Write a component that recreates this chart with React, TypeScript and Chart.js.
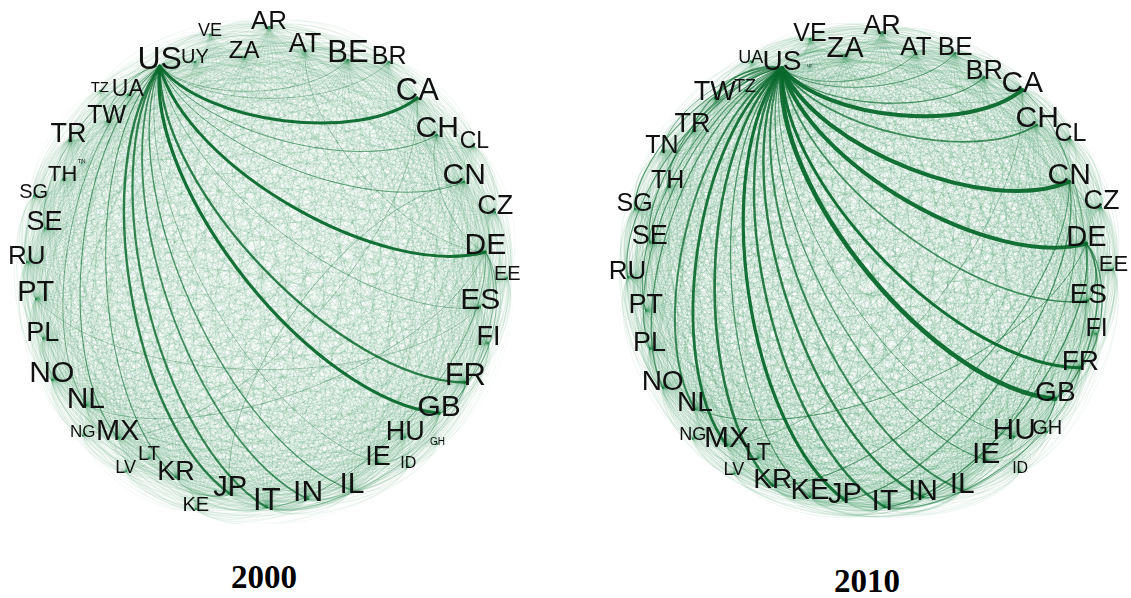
import React, { useEffect, useRef } from "react";
import { Chart, registerables } from "chart.js";

Chart.register(...registerables);

// ---------------- DATA ----------------
const COUNTRIES = [
  "AR", "AT", "BE", "BR", "CA", "CH", "CL", "CN", "CZ", "DE", "EE", "ES", "FI", "FR", "GB", "GH",
  "HU", "ID", "IE", "IL", "IN", "IT", "JP", "KE", "KR", "LT", "LV", "MX", "NG", "NL", "NO", "PL",
  "PT", "RU", "SE", "SG", "TH", "TN", "TR", "TW", "TZ", "UA", "US", "UY", "VE", "ZA",
];

// node strength
const STRENGTH_2000 = [
  26, 27, 31, 25, 31, 30, 23, 30, 27, 30, 20, 30, 27, 31, 30, 10,
  27, 16, 27, 30, 30, 31, 29, 20, 27, 20, 18, 29, 17, 30, 30, 27,
  29, 26, 27, 20, 22, 6, 27, 25, 15, 23, 32, 20, 18, 24,
];
const STRENGTH_2010 = [
  27, 26, 26, 27, 30, 30, 25, 30, 27, 29, 22, 28, 25, 28, 28, 20,
  30, 16, 30, 30, 30, 30, 29, 29, 28, 23, 18, 30, 18, 28, 28, 27,
  27, 26, 27, 25, 25, 25, 27, 27, 18, 18, 28, 4, 25, 29,
];

// circular layout: polar angle (degrees) and radius (unit circle) of every node
const ANGLE_2000 = [
  89.3, 79.9, 68.7, 59.3, 48.7, 38.3, 30.4, 24.0, 14.0, 4.7, -2.4, -9.8, -18.4, -29.4, -39.6, -46.1,
  -50.4, -54.5, -59.9, -68.7, -79.6, -89.8, -99.1, -106.2, -113.4, -121.6, -124.5, -131.4, -137.4, -143.1, -152.8, -162.8,
  -172.8, 178.3, 169.5, 162.8, 156.3, 151.0, 146.8, 137.1, 133.3, 128.4, 117.5, 109.0, 103.5, 95.9,
];
const RADIUS_2000 = [
  1.025, 0.942, 0.955, 1.02, 0.97, 0.923, 1.022, 0.918, 1.0, 0.931, 1.022, 0.92, 0.992, 0.968, 0.951, 1.046,
  0.924, 1.036, 0.945, 1.001, 0.986, 1.004, 0.961, 1.064, 0.96, 0.945, 1.048, 0.949, 1.053, 0.953, 1.019, 0.989,
  0.982, 1.013, 0.953, 1.029, 0.939, 0.892, 0.998, 0.92, 1.025, 0.941, 0.974, 0.923, 1.015, 0.903,
];
const ANGLE_2010 = [
  87.1, 78.0, 68.5, 59.3, 49.8, 41.0, 33.0, 23.9, 15.0, 6.9, -0.2, -8.1, -16.0, -25.0, -34.9, -42.8,
  -49.2, -53.7, -58.6, -67.3, -76.9, -86.4, -96.2, -104.8, -114.2, -120.6, -123.4, -129.3, -136.0, -141.5, -150.3, -160.2,
  -169.6, -178.1, 173.0, 165.7, 157.7, 150.4, 141.9, 132.2, 125.2, 120.0, 113.6, 106.9, 104.6, 96.6,
];
const RADIUS_2010 = [
  1.005, 0.936, 0.983, 0.946, 0.998, 0.937, 1.011, 0.922, 1.014, 0.922, 1.03, 0.933, 0.997, 0.982, 0.956, 1.022,
  0.934, 1.073, 0.943, 1.011, 0.988, 1.006, 0.981, 0.995, 1.003, 0.931, 1.046, 0.958, 1.043, 0.947, 1.01, 0.991,
  0.965, 1.026, 0.939, 1.028, 0.925, 1.013, 0.954, 0.978, 0.918, 1.008, 0.93, 0.877, 1.007, 0.917,
];

// strong links: [source, target, weight]
const EDGES_2000: [string, string, number][] = [
  ["US", "CA", 3.0], ["US", "DE", 3.0], ["US", "GB", 3.2], ["US", "FR", 2.4], ["US", "JP", 2.4],
  ["US", "IT", 2.2], ["US", "IN", 1.8], ["US", "IL", 1.4], ["US", "KR", 1.1], ["US", "MX", 1.1],
  ["US", "CH", 1.0], ["US", "CN", 1.0], ["US", "ES", 0.7], ["US", "NL", 0.8], ["US", "TW", 0.7],
  ["US", "BR", 0.6], ["US", "BE", 0.6], ["US", "SE", 0.5], ["US", "IE", 0.6],
  ["IT", "DE", 0.8], ["FR", "DE", 0.8], ["GB", "DE", 0.7], ["NL", "DE", 0.6], ["GB", "FR", 0.5],
  ["CN", "JP", 0.6], ["KR", "JP", 0.5], ["IE", "GB", 0.5], ["IT", "FR", 0.5], ["AT", "DE", 0.5],
  ["PT", "ES", 0.5], ["CH", "DE", 0.5], ["MX", "CA", 0.5],
];
const EDGES_2010: [string, string, number][] = [
  ["US", "CA", 4.0], ["US", "CN", 4.0], ["US", "DE", 4.0], ["US", "GB", 4.5], ["US", "FR", 3.0],
  ["US", "JP", 3.2], ["US", "KR", 2.6], ["US", "MX", 2.8], ["US", "IT", 2.4], ["US", "IN", 2.4],
  ["US", "IL", 2.0], ["US", "CH", 1.8], ["US", "ES", 1.8], ["US", "NL", 2.0], ["US", "TW", 1.6],
  ["US", "BR", 1.3], ["US", "NO", 1.3], ["US", "SE", 1.3], ["US", "TR", 1.3], ["US", "PL", 1.1],
  ["US", "PT", 1.0], ["US", "RU", 1.1], ["US", "SG", 1.1], ["US", "TH", 1.1], ["US", "TN", 0.9],
  ["US", "KE", 1.3], ["US", "IE", 1.3], ["US", "HU", 0.9], ["US", "BE", 1.0], ["US", "AT", 0.9],
  ["IT", "DE", 1.4], ["GB", "DE", 1.5], ["FR", "DE", 1.3], ["ES", "DE", 1.0], ["IT", "FR", 0.9],
  ["JP", "CN", 1.3], ["KR", "CN", 1.1], ["IN", "CN", 0.8], ["GB", "CA", 0.8], ["NL", "DE", 1.0],
  ["IE", "GB", 0.8], ["IN", "GB", 0.7], ["MX", "CA", 0.6],
];

const YEARS = ["2000", "2010"];

// ---------------- DRAWING ----------------
const EDGE_RGB = "10, 105, 45";
const MESH_RGB = "40, 140, 80";

function curve(ctx: CanvasRenderingContext2D, x1: number, y1: number, x2: number, y2: number) {
  const dx = x2 - x1;
  const dy = y2 - y1;
  const L = Math.hypot(dx, dy);
  if (L < 1) return;
  const ux = dx / L;
  const uy = dy / L;
  const f = 0.2 * L;
  const nx = -uy * f;
  const ny = ux * f;
  ctx.beginPath();
  ctx.moveTo(x1, y1);
  ctx.bezierCurveTo(x1 + ux * f + nx, y1 + uy * f + ny, x2 - ux * f + nx, y2 - uy * f + ny, x2, y2);
  ctx.stroke();
}

type Props = {
  year: string;
  angles: number[];
  radii: number[];
  strength: number[];
  edges: [string, string, number][];
  left: number;
  top: number;
};

function NetworkChart({ year, angles, radii, strength, edges, left, top }: Props) {
  const ref = useRef<HTMLCanvasElement>(null);
  useEffect(() => {
    const canvas = ref.current;
    if (!canvas) return;
    const points = COUNTRIES.map((_, i) => ({
      x: radii[i] * Math.cos((angles[i] * Math.PI) / 180),
      y: radii[i] * Math.sin((angles[i] * Math.PI) / 180),
    }));
    const index = new Map(COUNTRIES.map((c, i) => [c, i] as [string, number]));
    const maxS = Math.max(...strength);

    const plugin = {
      id: "network" + year,
      afterDatasetsDraw(chart: any) {
        const ctx: CanvasRenderingContext2D = chart.ctx;
        const meta = chart.getDatasetMeta(0);
        const nodeXY = (i: number) => {
          const el = meta.data[i];
          return [el.x, el.y + 0.2 * strength[i]];
        };
        ctx.save();
        ctx.lineCap = "round";
        // background mesh: every pair in both directions
        for (let i = 0; i < COUNTRIES.length; i++) {
          for (let j = 0; j < COUNTRIES.length; j++) {
            if (i === j) continue;
            const a = nodeXY(i);
            const b = nodeXY(j);
            const s = (strength[i] * strength[j]) / (maxS * maxS);
            ctx.strokeStyle = `rgba(${MESH_RGB}, ${0.04 + 0.14 * s})`;
            ctx.lineWidth = 0.5 + 0.3 * s;
            curve(ctx, a[0], a[1], b[0], b[1]);
          }
        }
        // strong links
        for (const [src, dst, w] of edges) {
          const i = index.get(src);
          const j = index.get(dst);
          if (i === undefined || j === undefined) continue;
          const a = nodeXY(i);
          const b = nodeXY(j);
          ctx.strokeStyle = `rgba(${EDGE_RGB}, ${Math.min(0.95, 0.35 + 0.2 * w)})`;
          ctx.lineWidth = w;
          curve(ctx, a[0], a[1], b[0], b[1]);
        }
        // labels
        ctx.fillStyle = "#111";
        ctx.textAlign = "center";
        ctx.textBaseline = "middle";
        COUNTRIES.forEach((c, i) => {
          const el = meta.data[i];
          ctx.font = `${strength[i]}px "Liberation Sans", Arial, sans-serif`;
          ctx.fillText(c, el.x, el.y);
        });
        ctx.restore();
      },
    };

    const chart = new Chart(canvas, {
      type: "scatter",
      data: {
        datasets: [
          {
            label: year,
            data: points,
            pointRadius: 0,
            pointHoverRadius: 0,
            showLine: false,
          },
        ],
      },
      options: {
        animation: false,
        responsive: false,
        devicePixelRatio: 1,
        events: [],
        layout: { padding: 0 },
        plugins: { legend: { display: false }, tooltip: { enabled: false }, title: { display: false } },
        scales: {
          x: { type: "linear", min: -1.1, max: 1.1, display: false },
          y: { type: "linear", min: -1.1, max: 1.1, display: false },
        },
      },
      plugins: [plugin],
    } as any);
    return () => chart.destroy();
  }, [year, angles, radii, strength, edges]);

  return (
    <canvas
      ref={ref}
      width={520}
      height={520}
      style={{ position: "absolute", left, top, width: 520, height: 520 }}
    />
  );
}

const captionStyle: React.CSSProperties = {
  position: "absolute",
  width: 200,
  textAlign: "center",
  font: 'bold 33px "Liberation Serif", "Times New Roman", serif',
  lineHeight: "33px",
  color: "#000",
};

export default function App() {
  return (
    <div
      style={{
        position: "fixed",
        left: 0,
        top: 0,
        width: 1131,
        height: 598,
        background: "#fff",
        overflow: "hidden",
      }}
    >
      <NetworkChart
        year={YEARS[0]}
        angles={ANGLE_2000}
        radii={RADIUS_2000}
        strength={STRENGTH_2000}
        edges={EDGES_2000}
        left={6}
        top={4}
      />
      <NetworkChart
        year={YEARS[1]}
        angles={ANGLE_2010}
        radii={RADIUS_2010}
        strength={STRENGTH_2010}
        edges={EDGES_2010}
        left={610}
        top={4}
      />
      <div style={{ ...captionStyle, left: 164, top: 561 }}>{YEARS[0]}</div>
      <div style={{ ...captionStyle, left: 767, top: 565 }}>{YEARS[1]}</div>
    </div>
  );
}
